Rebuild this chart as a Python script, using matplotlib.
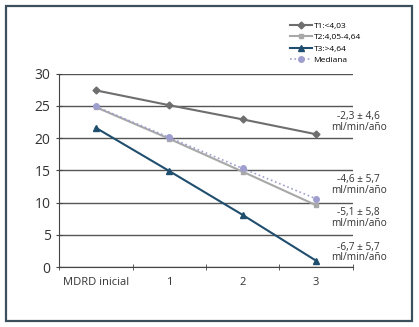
import matplotlib.pyplot as plt
from matplotlib.patches import Rectangle

# datos
categorias = ["MDRD inicial", "1", "2", "3"]
t1 = [27.4, 25.1, 22.9, 20.6]
t2 = [24.8, 19.9, 14.8, 9.6]
t3 = [21.6, 14.9, 8.1, 1.0]
mediana = [24.9, 20.1, 15.3, 10.6]

nombres = ["T1:<4,03", "T2:4,05-4,64", "T3:>4,64", "Mediana"]
pendientes = ["-2,3 \u00b1 4,6\nml/min/a\u00f1o", "-4,6 \u00b1 5,7\nml/min/a\u00f1o",
              "-5,1 \u00b1 5,8\nml/min/a\u00f1o", "-6,7 \u00b1 5,7\nml/min/a\u00f1o"]
pos_texto = [22.5, 12.7, 7.6, 2.3]

plt.rcParams['font.family'] = ['Open Sans', 'DejaVu Sans']

fig = plt.figure(figsize=(4.19, 3.27), dpi=100)
fig.patches.append(Rectangle((0.0143, 0.018), 0.969, 0.963, transform=fig.transFigure,
                             fill=False, edgecolor='#3b4f5c', lw=1.6))
ax = fig.add_axes([0.141, 0.183, 0.701, 0.592])

x = range(len(categorias))
ax.plot(x, t1, color='#6e6e6e', marker='D', ms=3.5, lw=1.5, label=nombres[0])
ax.plot(x, t2, color='#a8a8a8', marker='s', ms=3.5, lw=1.5, label=nombres[1])
ax.plot(x, t3, color='#1f4e6e', marker='^', ms=4, lw=1.5, label=nombres[2])
ax.plot(x, mediana, color='#9f9fcf', marker='o', ms=4, lw=1.2, ls=':', label=nombres[3])

ax.set_ylim(0, 30)
ax.set_xlim(-0.5, 3.5)
ax.set_yticks(range(0, 31, 5))
ax.set_xticks(list(x))
ax.set_xticklabels(categorias, fontsize=8, color='#333333')
ax.set_xticks([-0.5, 0.5, 1.5, 2.5, 3.5], minor=True)
ax.tick_params(axis='x', which='major', length=0, pad=7)
ax.tick_params(axis='x', which='minor', direction='inout', length=5, color='#444444')
ax.tick_params(axis='y', direction='inout', length=5, labelsize=10, labelcolor='#333333', color='#444444')
ax.yaxis.grid(True, color='#555555', lw=1)
ax.set_axisbelow(True)
for s in ['top', 'right']:
    ax.spines[s].set_visible(False)
ax.spines['left'].set_color('#444444')
ax.spines['bottom'].set_color('#444444')

for txt, yv in zip(pendientes, pos_texto):
    ax.text(3.58, yv, txt, fontsize=7.3, color='#333333', ha='center', va='center',
            linespacing=0.95, clip_on=False)

ax.legend(loc='upper left', bbox_to_anchor=(0.775, 1.285), frameon=False, fontsize=6,
          handlelength=2.6, labelspacing=0.45, handletextpad=0.2, borderaxespad=0)

fig.savefig("out.png", dpi=100)
